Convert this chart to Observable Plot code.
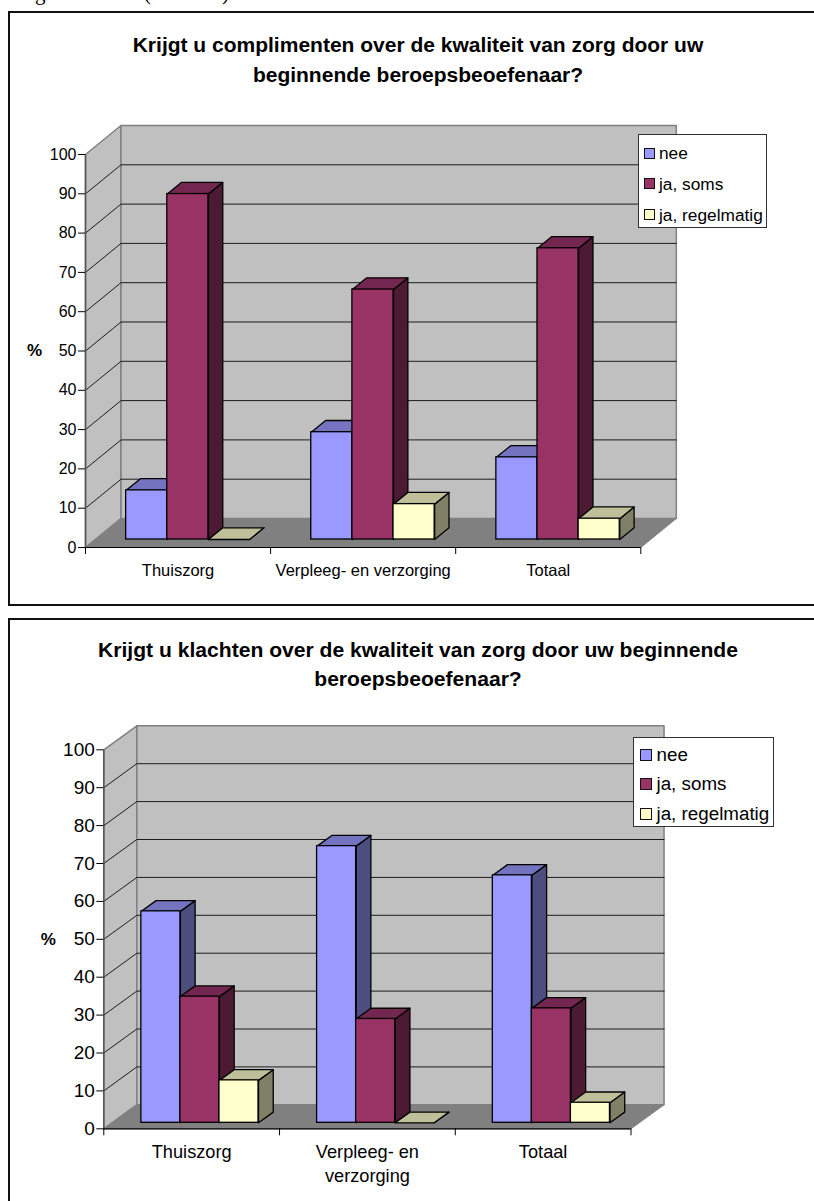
<!DOCTYPE html>
<html lang="nl">
<head>
<meta charset="utf-8">
<script src="https://cdn.jsdelivr.net/npm/d3@7"></script>
<script src="https://cdn.jsdelivr.net/npm/@observablehq/plot@0.6"></script>
<style>
  html, body { margin: 0; padding: 0; background: #fff; }
  body { position: relative; width: 814px; height: 1201px; overflow: hidden; font-family: "Liberation Sans", Arial, sans-serif; color: #000; }
  .frame { position: absolute; left: 8px; right: -20px; border: 2px solid #111; box-sizing: border-box; }
  .chart { position: absolute; left: 0; }
  .chart svg { display: block; background: transparent; }
  .title { position: absolute; left: 9px; width: 818px; text-align: center; font-weight: bold; }
  .legend { position: absolute; box-sizing: border-box; background: #fff; border: 1.5px solid #333; }
  .legend div { position: absolute; white-space: nowrap; transform: translateY(-50%); }
  .legend i { position: absolute; box-sizing: border-box; border: 1.5px solid #111; }
  .cut { position: absolute; font-family: "Liberation Serif", serif; font-size: 21px; line-height: 21px; }
</style>
</head>
<body>
<script>
// Category names per chart
const categoriesCompliments = ["Thuiszorg", "Verpleeg- en verzorging", "Totaal"];
const categoriesComplaints = ["Thuiszorg", "Verpleeg- en\nverzorging", "Totaal"];

// Percentages per answer, in category order
const complimentsNee = [12.5, 27.3, 20.9];
const complimentsSoms = [87.9, 63.6, 74.1];
const complimentsRegelmatig = [0, 9, 5.3];

const complaintsNee = [55.8, 73, 65.3];
const complaintsSoms = [33.3, 27.4, 30.2];
const complaintsRegelmatig = [11.2, 0, 5.3];

const answers = ["nee", "ja, soms", "ja, regelmatig"];
const yTicks = [0, 10, 20, 30, 40, 50, 60, 70, 80, 90, 100];

// Shades of each answer: front, top and side face of a column
const shades = [
  {front: "#9999ff", top: "#7373bf", side: "#4d4d80"},
  {front: "#993366", top: "#732650", side: "#4d1a33"},
  {front: "#ffffcc", top: "#bfbf99", side: "#808066"}
];

const GAP = 1 / 6;          // space before the first column of a group, in category units
const BAR = 2 / 9;          // column width, in category units

function drawChart(cfg) {
  // Oblique projection: depth 0 is the front of the floor, depth 1 the back wall
  const at = (x, v, depth) => ({x: x + depth * cfg.depthX, y: v + depth * cfg.depthY});
  const poly = (id, corners) => corners.map(([x, v, d]) => ({id, ...at(x, v, d)}));
  const face = (polys, fill, stroke, strokeWidth) =>
    Plot.line(polys.flat(), {x: "x", y: "y", z: "id", curve: "linear-closed", fill, stroke, strokeWidth});

  const walls = [
    face([poly("side", [[0, 0, 0], [0, 0, 1], [0, 100, 1], [0, 100, 0]])], "#c0c0c0", "#808080", 1.5),
    face([poly("back", [[0, 0, 1], [3, 0, 1], [3, 100, 1], [0, 100, 1]])], "#c0c0c0", "#808080", 1.5)
  ];

  const grid = Plot.line(
    yTicks.slice(1, -1).flatMap((v) => poly(v, [[0, v, 0], [0, v, 1], [3, v, 1]])),
    {x: "x", y: "y", z: "id", stroke: "#1c1c1c", strokeWidth: 1}
  );

  const floor = face([poly("floor", [[0, 0, 0], [3, 0, 0], [3, 0, 1], [0, 0, 1]])], "#808080", "#808080", 1);

  // Columns of one answer: side and top first, then the front face
  const columns = cfg.series.flatMap((values, s) => {
    const rows = values.map((v, c) => ({v, x1: c + GAP + s * BAR, x2: c + GAP + (s + 1) * BAR}));
    const [d0, d1] = [cfg.barNear, cfg.barFar];
    return [
      face(rows.map((r, i) => poly("s" + i, [[r.x2, 0, d0], [r.x2, 0, d1], [r.x2, r.v, d1], [r.x2, r.v, d0]])), shades[s].side, "#000", 1.3),
      face(rows.map((r, i) => poly("t" + i, [[r.x1, r.v, d0], [r.x2, r.v, d0], [r.x2, r.v, d1], [r.x1, r.v, d1]])), shades[s].top, "#000", 1.3),
      Plot.rect(rows, {
        x1: (r) => at(r.x1, 0, d0).x,
        x2: (r) => at(r.x2, 0, d0).x,
        y1: () => at(0, 0, d0).y,
        y2: (r) => at(0, r.v, d0).y,
        fill: shades[s].front,
        stroke: "#000",
        strokeWidth: 1.3
      })
    ];
  });

  const plot = Plot.plot({
    width: 814,
    height: cfg.height,
    marginLeft: cfg.marginLeft,
    marginRight: cfg.marginRight,
    marginTop: cfg.marginTop,
    marginBottom: cfg.marginBottom,
    style: {fontFamily: "'Liberation Sans', Arial, sans-serif", background: "transparent", color: "#000", maxWidth: "none"},
    x: {domain: [0, 3], axis: null},
    y: {domain: [0, 100], axis: null},
    marks: [
      walls,
      grid,
      floor,
      Plot.ruleY([0], {x1: 0, x2: 3, stroke: "#000", strokeWidth: 1.2}),
      Plot.ruleX([0], {y1: 0, y2: 100, stroke: "#555", strokeWidth: 1.5}),
      columns,
      Plot.axisY({ticks: yTicks, tickSize: 7, tickPadding: 2, fontSize: cfg.tickSize, label: null, stroke: "#000"}),
      Plot.axisX({ticks: [0, 1, 2, 3], tickSize: 7, fill: "none", label: null, stroke: "#000"}),
      Plot.text(cfg.categories, {
        x: (d, i) => i + 0.5,
        y: 0,
        dy: cfg.categoryOffset,
        lineAnchor: "top",
        lineHeight: 1.33,
        fontSize: cfg.categorySize
      }),
      Plot.text(["%"], {x: 0, y: 50, dx: cfg.percentOffset, fontWeight: "bold", fontSize: 17})
    ]
  });

  const holder = document.createElement("div");
  holder.className = "chart";
  holder.style.top = cfg.top + "px";
  holder.append(plot);
  document.body.append(holder);
}

function addFrame(top, height) {
  const el = document.createElement("div");
  el.className = "frame";
  el.style.top = top + "px";
  el.style.height = height + "px";
  document.body.append(el);
}

function addTitle(text, top, size, lineHeight) {
  const el = document.createElement("div");
  el.className = "title";
  el.style.top = top + "px";
  el.style.fontSize = size + "px";
  el.style.lineHeight = lineHeight + "px";
  el.innerText = text;
  document.body.append(el);
}

function addLegend(box, rows, swatch, textLeft, size) {
  const el = document.createElement("div");
  el.className = "legend";
  el.style.cssText = `left:${box.x}px;top:${box.y}px;width:${box.w}px;height:${box.h}px`;
  answers.forEach((name, i) => {
    const sw = document.createElement("i");
    sw.style.cssText = `left:${swatch.x}px;top:${rows[i] - swatch.s / 2}px;width:${swatch.s}px;height:${swatch.s}px;background:${shades[i].front}`;
    const label = document.createElement("div");
    label.style.cssText = `left:${textLeft}px;top:${rows[i]}px;font-size:${size}px`;
    label.textContent = name;
    el.append(sw, label);
  });
  document.body.append(el);
}

// Remains of the caption line above the charts, cut off by the page edge
[["g", 35], ["(", 144], [")", 222]].forEach(([glyph, left]) => {
  const el = document.createElement("span");
  el.className = "cut";
  el.style.left = left + "px";
  el.style.top = "-17px";
  el.textContent = glyph;
  document.body.append(el);
});

addFrame(11, 595);
addFrame(618, 620);

drawChart({
  top: 0, height: 605,
  marginLeft: 85, marginRight: 173.7, marginTop: 154, marginBottom: 58,
  depthX: 35.5 / 185, depthY: 7.38, barNear: 0.276, barFar: 0.68,
  tickSize: 16, categorySize: 16.5, categoryOffset: 13, percentOffset: -51,
  categories: categoriesCompliments,
  series: [complimentsNee, complimentsSoms, complimentsRegelmatig]
});
drawChart({
  top: 619, height: 582,
  marginLeft: 103.3, marginRight: 183.5, marginTop: 130.3, marginBottom: 72.7,
  depthX: 33 / 175.5, depthY: 6.33, barNear: 0.25, barFar: 0.696,
  tickSize: 19, categorySize: 18.2, categoryOffset: 12, percentOffset: -55.6,
  categories: categoriesComplaints,
  series: [complaintsNee, complaintsSoms, complaintsRegelmatig]
});

addTitle("Krijgt u complimenten over de kwaliteit van zorg door uw\nbeginnende beroepsbeoefenaar?", 30, 21, 30);
addTitle("Krijgt u klachten over de kwaliteit van zorg door uw beginnende\nberoepsbeoefenaar?", 636, 21.1, 28.5);

addLegend({x: 638, y: 134, w: 128.5, h: 93.5}, [18, 48.5, 79.5], {x: 5, s: 11}, 20, 17.3);
addLegend({x: 632.5, y: 737, w: 141, h: 89.5}, [16.5, 45.5, 75.5], {x: 6, s: 12}, 23, 18.8);
</script>
</body>
</html>
